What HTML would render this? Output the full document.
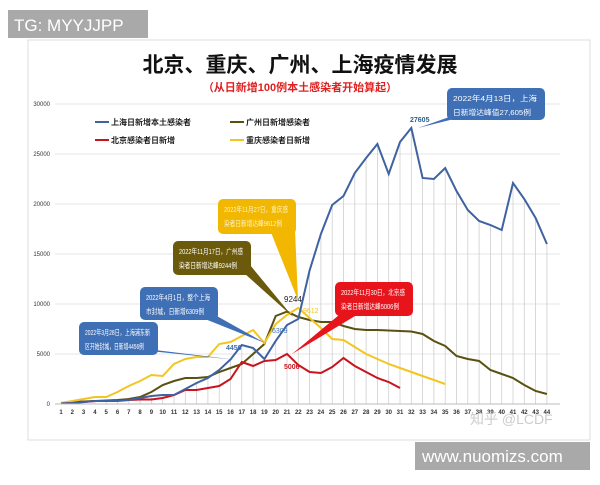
<!DOCTYPE html>
<html><head><meta charset="utf-8"><style>
body{margin:0;width:600px;height:480px;background:#fff;overflow:hidden;font-family:"Liberation Sans","Noto Sans CJK SC",sans-serif;}
</style></head><body>
<svg id="s" width="600" height="480" xmlns="http://www.w3.org/2000/svg" font-family="Liberation Sans, Noto Sans CJK SC, sans-serif"></svg>
<script>
const s=document.getElementById('s');
let h='';
h+='<rect x="28" y="40" width="562" height="400" fill="#fff" stroke="#ddd"/>';
h+='<rect x="8" y="10" width="140" height="28" fill="#a9a9a9"/><text x="14" y="31" font-size="17" fill="#fff">TG: MYYJJPP</text>';
h+='<text x="300" y="72" font-size="21" font-weight="bold" text-anchor="middle" fill="#111">北京、重庆、广州、上海疫情发展</text>';
h+='<text x="300" y="91" font-size="11" font-weight="bold" text-anchor="middle" fill="#e02020">（从日新增100例本土感染者开始算起）</text>';
const X=d=>61+(d-1)*11.3, Y=v=>404-v*0.01;
for(let v=0;v<=30000;v+=5000){h+=`<line x1="55" x2="560" y1="${Y(v)}" y2="${Y(v)}" stroke="#e4e4e4"/><text x="50" y="${Y(v)+2}" font-size="6" text-anchor="end" fill="#333">${v}</text>`;}
for(let d=1;d<=44;d++){h+=`<text x="${X(d)}" y="414" font-size="6" font-weight="bold" text-anchor="middle" fill="#333">${d}</text>`;}
const sh=[50,100,200,300,300,300,400,600,800,900,900,1500,2100,2600,3400,4456,5900,5600,4500,6309,7900,8500,13360,17000,19900,20800,23100,24600,26000,23000,26200,27605,22600,22500,23600,21300,19400,18300,17900,17400,22100,20500,18600,16000];
sh.forEach((v,i)=>{h+=`<line x1="${X(i+1)}" x2="${X(i+1)}" y1="${Y(v)}" y2="404" stroke="#cfcfcf" stroke-width="0.8"/>`;});
const gz=[100,200,250,300,350,400,500,700,1200,1900,2300,2600,2600,2700,3200,3600,4000,5000,6000,8800,9244,8700,8400,8200,8200,7800,7500,7400,7400,7350,7300,7250,7000,6300,5800,4800,4500,4300,3400,3000,2600,1900,1300,1000];
const cq=[100,300,500,700,700,1200,1800,2300,2900,2800,4000,4500,4700,4700,6000,6200,6800,7400,6100,8000,8900,9612,8600,7600,6500,6400,5700,5000,4500,4000,3600,3200,2800,2400,2000];
const bj=[50,100,200,300,300,350,400,450,450,600,900,1400,1400,1600,1800,2500,4200,3800,4300,4400,5006,3900,3200,3100,3700,4600,3800,3200,2600,2200,1600];
const pl=(a,c)=>{h+=`<polyline fill="none" stroke="${c}" stroke-width="2" points="${a.map((v,i)=>X(i+1)+','+Y(v)).join(' ')}"/>`;};
pl(gz,'#5a5010');pl(cq,'#f2c521');pl(bj,'#c8141e');pl(sh,'#3f62a0');
h+='<line x1="55" x2="560" y1="404" y2="404" stroke="#bbb"/>';
const lg=[[95,122,'#3f62a0','上海日新增本土感染者'],[230,122,'#5a5010','广州日新增感染者'],[95,140,'#c8141e','北京感染者日新增'],[230,140,'#f2c521','重庆感染者日新增']];
lg.forEach(l=>{h+=`<line x1="${l[0]}" x2="${l[0]+14}" y1="${l[1]}" y2="${l[1]}" stroke="${l[2]}" stroke-width="2"/><text x="${l[0]+16}" y="${l[1]+3}" font-size="8" font-weight="bold" fill="#222">${l[3]}</text>`;});
function co(x,y,w,ht,c,t1,t2,px,py,bx1,bx2,by,tc){h+=`<polygon points="${bx1},${by} ${bx2},${by} ${px},${py}" fill="${c}"/><rect x="${x}" y="${y}" width="${w}" height="${ht}" rx="5" fill="${c}"/><text x="${x+6}" y="${y+13}" font-size="7.5" fill="${tc}" textLength="${w-14}" lengthAdjust="spacingAndGlyphs">${t1}</text><text x="${x+6}" y="${y+27}" font-size="7.5" fill="${tc}" textLength="${w-20}" lengthAdjust="spacingAndGlyphs">${t2}</text>`;}
co(447,88,98,32,'#3f6fb5','2022年4月13日，上海','日新增达峰值27,605例',418,128,455,470,115,'#fff');
co(218,199,78,35,'#f2b700','2022年11月27日，重庆感','染者日新增达峰9612例',298,300,270,295,230,'#fff3c0');
co(173,241,78,34,'#6b5a0c','2022年11月17日，广州感','染者日新增达峰9244例',293,317,235,250,265,'#fff');
co(140,287,78,33,'#3f6fb5','2022年4月1日，整个上海','市封城，日新增6309例',265,343,195,215,315,'#fff');
co(79,322,79,33,'#3f6fb5','2022年3月28日，上海浦东新','区开始封城，日新增4456例',237,360,140,155,350,'#fff');
co(335,282,78,34,'#e8141c','2022年11月30日，北京感','染者日新增达峰5006例',292,354,345,365,310,'#fff');
h+='<text x="410" y="122" font-size="7" fill="#2c5f8a" font-weight="bold">27605</text>';
h+='<text x="284" y="302" font-size="8" fill="#222">9244</text>';
h+='<text x="303" y="313" font-size="7" fill="#f2c521">9612</text>';
h+='<text x="226" y="350" font-size="7" fill="#3f6fb5" font-weight="bold">4456</text>';
h+='<text x="272" y="333" font-size="7" fill="#3f6fb5">6309</text>';
h+='<text x="284" y="369" font-size="7" fill="#c8141e" font-weight="bold">5006</text>';
h+='<text x="470" y="424" font-size="14" fill="#ccc">知乎 @LCDF</text>';
h+='<rect x="415" y="442" width="175" height="28" fill="#a9a9a9"/><text x="422" y="462" font-size="17" fill="#fff">www.nuomizs.com</text>';
s.innerHTML=h;
</script>
</body></html>
